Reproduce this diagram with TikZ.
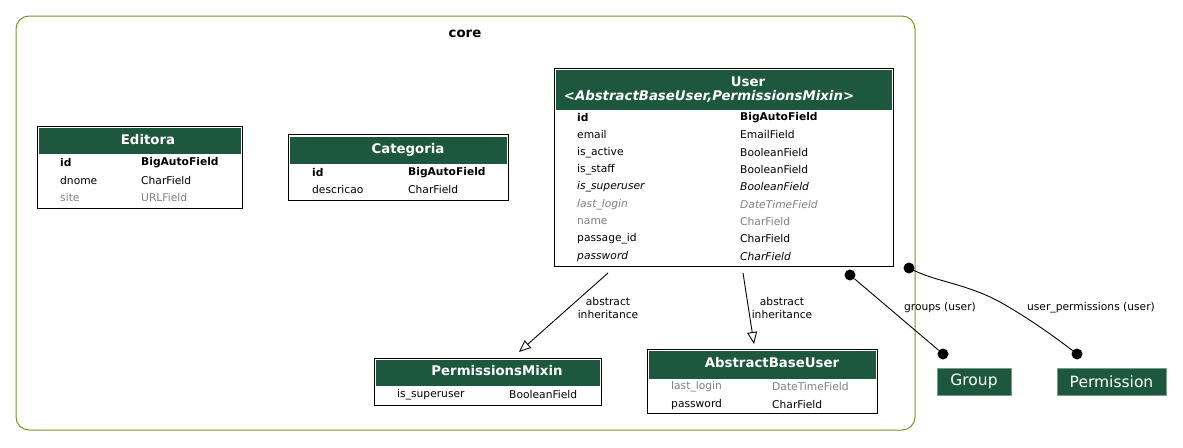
\documentclass[tikz,border=0pt]{standalone}
\usepackage{fontspec}
\setmainfont{DejaVu Sans}
\usetikzlibrary{arrows.meta}
\definecolor{hdrgreen}{RGB}{29,87,62}
\definecolor{clusterc}{RGB}{118,150,40}
\definecolor{fgray}{RGB}{128,128,128}
\tikzset{
  tbl/.style={draw=black, line width=1pt, fill=white, inner sep=0pt},
  hdr/.style={fill=hdrgreen, draw=none, inner sep=0pt},
  ttl/.style={text=white, font=\fontsize{13.3}{15}\selectfont\bfseries, inner sep=0pt, yshift=-1pt},
  fld/.style={anchor=west, inner sep=0pt, yshift=-1.5pt, font=\fontsize{10.7}{12}\selectfont},
  fldb/.style={fld, font=\fontsize{10.7}{12}\selectfont\bfseries},
  fldi/.style={fld, font=\fontsize{10.7}{12}\selectfont\itshape},
  fldg/.style={fld, text=fgray},
  fldgi/.style={fldi, text=fgray},
  elbl/.style={inner sep=0pt, align=center, yshift=-1pt, font=\fontsize{10.7}{13}\selectfont},
  inh/.style={draw=black, line width=0.9pt, -{Triangle[open, length=12pt, width=10pt]}},
  rel/.style={draw=black, line width=0.9pt},
  dotc/.style={circle, fill=black, inner sep=0pt, minimum size=11pt},
  extbox/.style={fill=hdrgreen, draw=hdrgreen!60, inner sep=0pt, text=white, font=\fontsize{15.5}{17}\selectfont},
}
\begin{document}
\begin{tikzpicture}[x=1pt, y=-1pt]
\useasboundingbox (0,0) rectangle (1183,447);
% cluster
\draw[clusterc, line width=1pt, rounded corners=13pt] (16,16) rectangle (915,430);
\node[inner sep=0pt, yshift=-1pt, font=\fontsize{13.3}{15}\selectfont\bfseries] (core) at (465,33) {core};

% Editora
\node[tbl, minimum width=205, minimum height=82] (editora) at (139.5,167) {};
\node[hdr, minimum width=202, minimum height=26] (editorah) at (140,141) {};
\node[ttl] (editorat) at (148,139) {Editora};
\node[fldb] (ed1a) at (60,161) {id};
\node[fldb] (ed1b) at (141,161) {BigAutoField};
\node[fld] (ed2a) at (60,179) {dnome};
\node[fld] (ed2b) at (141,179) {CharField};
\node[fldg] (ed3a) at (60,196) {site};
\node[fldg] (ed3b) at (141,196) {URLField};

% Categoria
\node[tbl, minimum width=220, minimum height=66] (categoria) at (398,167) {};
\node[hdr, minimum width=217, minimum height=27] (categoriah) at (398.5,150.5) {};
\node[ttl] (categoriat) at (408,149) {Categoria};
\node[fldb] (ca1a) at (312,171) {id};
\node[fldb] (ca1b) at (408,171) {BigAutoField};
\node[fld] (ca2a) at (312,188) {descricao};
\node[fld] (ca2b) at (408,188) {CharField};

% User
\node[tbl, minimum width=339, minimum height=198] (user) at (723.5,167) {};
\node[hdr, minimum width=336, minimum height=40] (userh) at (724,89.5) {};
\node[ttl] (usert1) at (748,81) {User};
\node[ttl, font=\fontsize{13.3}{15}\selectfont\bfseries\itshape] (usert2) at (709,95) {<AbstractBaseUser,PermissionsMixin>};
\node[fldb] (us1a) at (577,116) {id};
\node[fldb] (us1b) at (740,116) {BigAutoField};
\node[fld] (us2a) at (577,133) {email};
\node[fld] (us2b) at (740,133) {EmailField};
\node[fld] (us3a) at (577,151) {is\_active};
\node[fld] (us3b) at (740,151) {BooleanField};
\node[fld] (us4a) at (577,168) {is\_staff};
\node[fld] (us4b) at (740,168) {BooleanField};
\node[fldi] (us5a) at (577,185) {is\_superuser};
\node[fldi] (us5b) at (740,185) {BooleanField};
\node[fldgi] (us6a) at (577,203) {last\_login};
\node[fldgi] (us6b) at (740,203) {DateTimeField};
\node[fldg] (us7a) at (577,220) {name};
\node[fldg] (us7b) at (740,220) {CharField};
\node[fld] (us8a) at (577,237) {passage\_id};
\node[fld] (us8b) at (740,237) {CharField};
\node[fldi] (us9a) at (577,255) {password};
\node[fldi] (us9b) at (740,255) {CharField};

% PermissionsMixin
\node[tbl, minimum width=227, minimum height=47] (pm) at (487.5,381.5) {};
\node[hdr, minimum width=224, minimum height=26] (pmh) at (488,373) {};
\node[ttl] (pmt) at (497,370) {PermissionsMixin};
\node[fld] (pm1a) at (397,393) {is\_superuser};
\node[fld] (pm1b) at (509,393) {BooleanField};

% AbstractBaseUser
\node[tbl, minimum width=230, minimum height=64] (abu) at (762,381) {};
\node[hdr, minimum width=227, minimum height=28] (abuh) at (762.5,365) {};
\node[ttl] (abut) at (772,362) {AbstractBaseUser};
\node[fldg] (ab1a) at (671,385) {last\_login};
\node[fldg] (ab1b) at (772,385) {DateTimeField};
\node[fld] (ab2a) at (671,403) {password};
\node[fld] (ab2b) at (772,403) {CharField};

% external models
\node[extbox, minimum width=74, minimum height=27] (group) at (974,381.5) {Group};
\node[extbox, minimum width=109, minimum height=27] (perm) at (1111.5,381.5) {Permission};

% inheritance edges
\coordinate (e1s) at (608,273);
\coordinate (e1e) at (519,352);
\draw[inh] (e1s) -- (e1e);
\node[elbl] (e1l) at (608,307) {abstract\\inheritance};
\coordinate (e2s) at (743,273);
\coordinate (e2e) at (754,344);
\draw[inh] (e2s) -- (e2e);
\node[elbl] (e2l) at (782,307) {abstract\\inheritance};

% relation edges
\node[dotc] (g1) at (850,275) {};
\node[dotc] (g2) at (943,354) {};
\draw[rel] (g1) -- (g2);
\node[elbl] (gl) at (940,307) {groups (user)};
\node[dotc] (p1) at (909,268) {};
\node[dotc] (p2) at (1077,354) {};
\draw[rel] (p1.center) .. controls (935,282) and (965,283) .. (1000,302) .. controls (1030,319) and (1055,337) .. (p2.center);
\node[elbl] (pl) at (1091,307) {user\_permissions (user)};
\end{tikzpicture}
\end{document}
